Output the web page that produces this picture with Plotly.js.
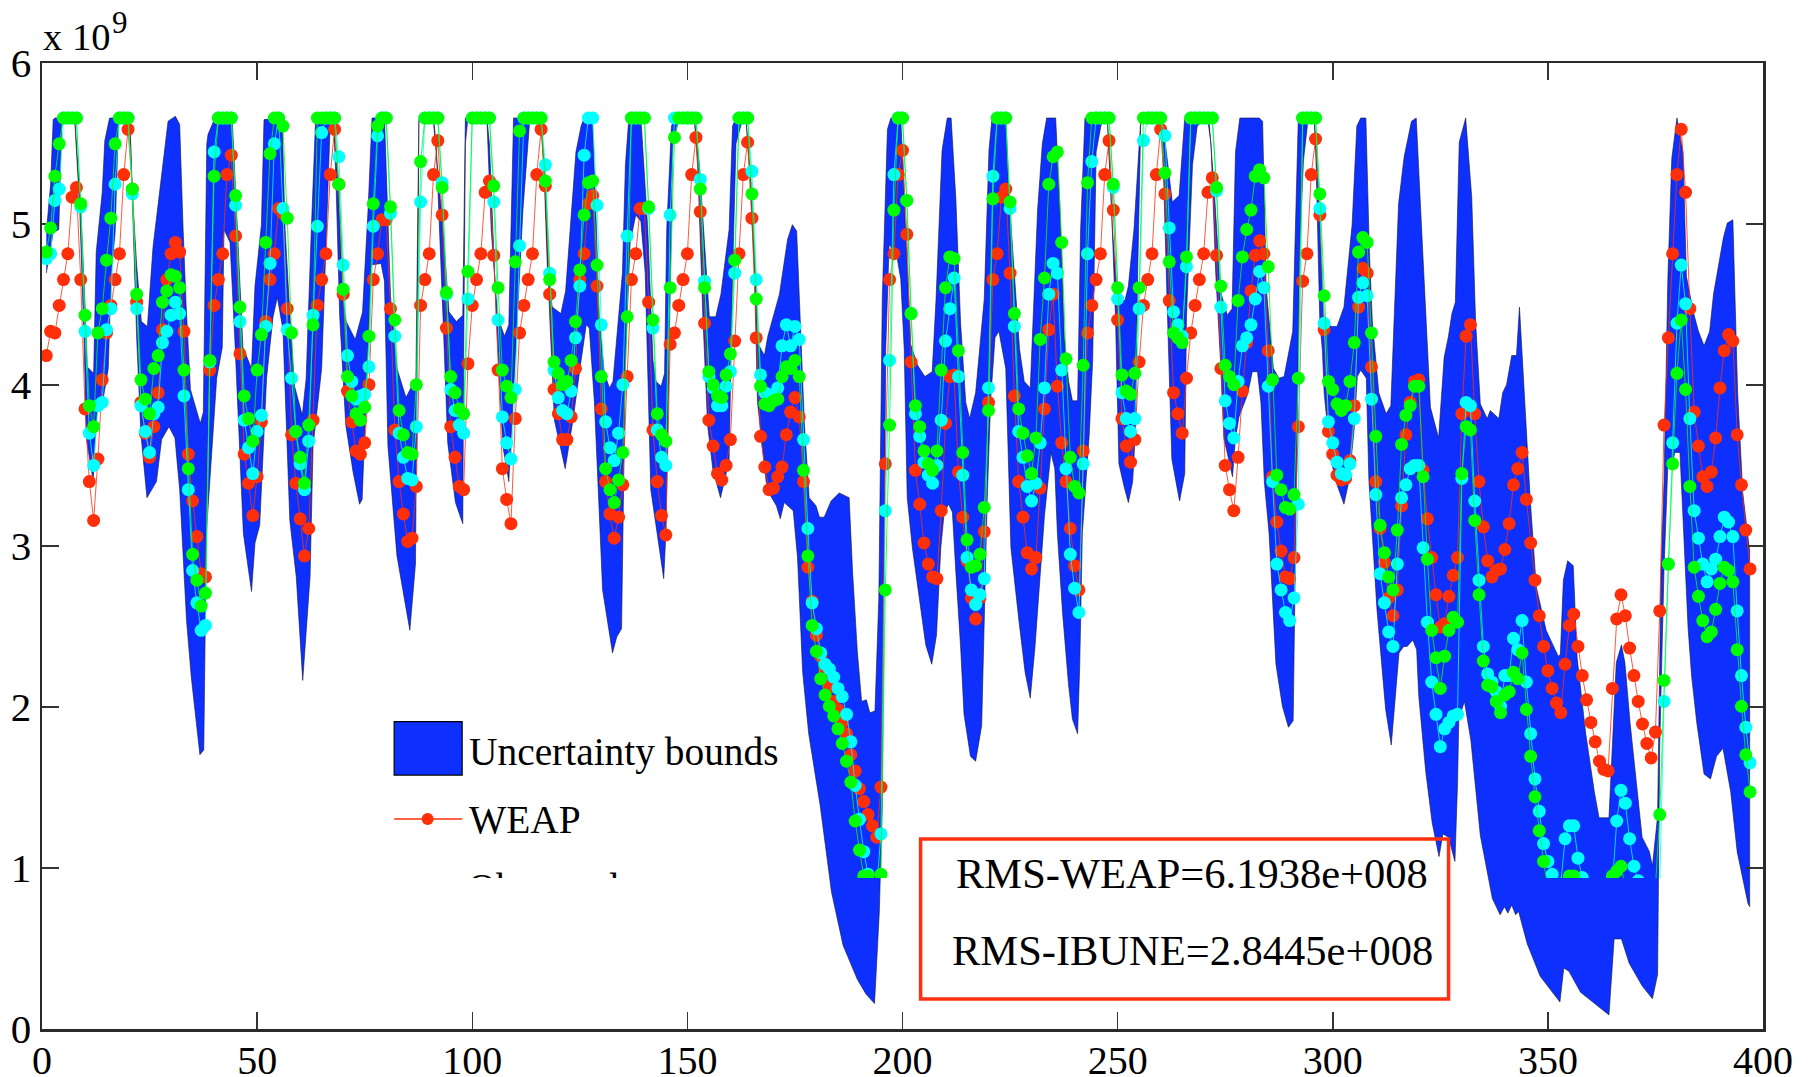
<!DOCTYPE html>
<html>
<head>
<meta charset="utf-8">
<script src="https://cdn.plot.ly/plotly-3.0.1.min.js"></script>
<style>html,body{margin:0;padding:0;background:#fff}#chart{width:1810px;height:1077px}</style>
</head>
<body>
<div id="chart"></div>
<script>
// Series values, in units of 10^9, index 1..397
const weap = [4.19,4.34,4.33,4.50,4.66,4.82,5.17,5.23,4.66,3.86,3.41,3.17,3.55,4.04,4.33,4.50,4.66,4.82,5.31,5.59,
5.22,4.52,3.90,3.71,3.56,3.75,3.96,4.35,4.66,4.82,4.89,4.83,4.34,3.58,3.29,3.07,2.84,2.82,4.10,4.50,
4.66,4.82,5.31,5.43,4.93,4.20,3.58,3.40,3.20,3.44,3.78,4.40,4.66,4.82,5.10,5.07,4.48,3.70,3.40,3.18,
2.95,3.12,3.79,4.50,4.66,4.82,5.31,5.59,5.25,4.57,3.97,3.78,3.60,3.58,3.65,4.01,4.66,4.82,5.03,5.03,
4.48,3.73,3.41,3.21,3.04,3.06,3.38,4.50,4.66,4.82,5.31,5.52,5.06,4.36,3.75,3.56,3.38,3.36,4.14,4.50,
4.66,4.82,5.20,5.27,4.81,4.10,3.49,3.30,3.15,3.80,4.33,4.50,4.66,4.82,5.31,5.59,5.24,4.57,3.98,3.83,
3.67,3.67,3.81,4.11,4.66,4.82,5.13,5.18,4.62,3.86,3.41,3.21,3.06,3.19,3.39,4.06,4.66,4.82,5.10,5.10,
4.52,3.73,3.41,3.20,3.08,4.26,4.33,4.50,4.66,4.82,5.31,5.54,5.08,4.39,3.79,3.63,3.46,3.42,3.51,3.67,
4.28,4.82,5.31,5.51,5.04,4.30,3.69,3.50,3.36,3.37,3.44,3.50,3.70,3.84,3.93,3.81,3.41,2.88,2.67,2.46,
2.33,2.24,2.14,2.05,2.00,1.92,1.85,1.72,1.62,1.51,1.43,1.35,1.28,1.21,1.52,3.52,4.66,4.82,5.31,5.46,
4.94,4.15,3.48,3.27,3.03,2.90,2.82,2.81,3.23,3.77,4.06,4.07,3.47,3.19,2.92,2.69,2.56,2.69,3.10,3.90,
4.66,4.82,5.17,5.22,4.70,3.94,3.41,3.19,2.97,2.87,2.94,3.37,3.86,4.35,4.57,4.00,3.65,3.41,3.12,2.89,
2.74,3.60,4.33,4.50,4.66,4.82,5.31,5.52,5.09,4.41,3.80,3.63,3.53,3.67,4.15,4.50,4.66,4.82,5.31,5.59,
5.19,4.53,3.96,3.83,3.71,4.05,4.33,4.50,4.66,4.82,5.20,5.29,4.81,4.11,3.51,3.36,3.23,3.56,3.97,4.27,
4.59,4.81,4.90,4.82,4.22,3.44,3.16,2.98,2.82,2.81,2.94,3.75,4.65,4.82,5.31,5.53,5.06,4.35,3.72,3.58,
3.45,3.42,3.43,3.54,3.88,4.49,4.73,4.70,4.12,3.41,3.12,2.91,2.69,2.58,2.74,3.26,3.70,3.90,4.03,4.04,
3.48,3.18,2.94,2.71,2.51,2.53,2.70,2.83,2.94,3.83,4.31,4.38,3.83,3.41,3.13,2.92,2.82,2.86,2.87,2.99,
3.15,3.39,3.49,3.59,3.30,3.03,2.80,2.58,2.39,2.24,2.13,2.04,1.98,2.28,2.52,2.59,2.39,2.21,2.06,1.92,
1.80,1.68,1.63,1.62,2.13,2.56,2.71,2.58,2.38,2.21,2.05,1.91,1.79,1.70,1.86,2.61,3.76,4.30,4.82,5.31,
5.59,5.20,4.48,3.84,3.63,3.44,3.38,3.47,3.68,3.99,4.22,4.32,4.28,3.70,3.39,3.11,2.87];

const ibune = [4.79,4.82,5.15,5.22,5.66,5.66,5.66,5.66,5.11,4.34,3.71,3.51,3.88,3.90,4.35,4.48,5.25,5.66,5.66,5.66,
5.19,4.48,3.88,3.72,3.59,3.83,3.87,4.27,4.34,4.44,4.52,4.45,3.94,3.36,2.86,2.66,2.49,2.52,4.15,5.45,
5.66,5.66,5.66,5.66,5.12,4.40,3.79,3.62,3.46,3.72,3.82,4.37,4.76,5.50,5.66,5.10,4.35,4.05,3.72,3.52,
3.36,3.66,4.44,4.99,5.57,5.66,5.66,5.66,5.42,4.75,4.19,4.03,3.92,3.94,3.95,4.12,4.99,5.55,5.66,5.66,
5.07,4.31,3.71,3.56,3.43,3.42,3.75,5.14,5.66,5.66,5.66,5.66,5.26,4.57,3.98,3.85,3.76,3.71,4.54,5.66,
5.66,5.66,5.66,5.66,5.14,4.41,3.81,3.65,3.55,3.98,4.87,5.66,5.66,5.66,5.66,5.66,5.37,4.70,4.10,3.93,
3.85,3.83,3.97,4.30,4.62,5.43,5.66,5.66,5.12,4.38,3.78,3.62,3.54,3.71,4.01,4.93,5.66,5.66,5.66,5.66,
5.10,4.36,3.73,3.56,3.51,5.06,5.66,5.66,5.66,5.66,5.66,5.66,5.28,4.65,4.06,3.99,3.88,3.88,4.00,4.09,
4.70,5.66,5.66,5.66,5.33,4.66,4.07,3.96,3.92,3.95,3.99,4.25,4.38,4.25,4.37,4.29,3.67,3.12,2.66,2.50,
2.35,2.28,2.25,2.20,2.13,2.08,1.97,1.80,1.53,1.32,1.12,0.98,0.90,0.90,1.23,3.23,4.16,5.31,5.66,5.66,
5.15,4.45,3.83,3.69,3.53,3.45,3.40,3.51,3.79,4.28,4.48,4.67,4.06,3.45,2.94,2.74,2.65,2.71,2.81,3.99,
5.30,5.66,5.66,5.66,5.10,4.37,3.72,3.56,3.38,3.29,3.40,3.65,3.99,4.57,4.76,4.70,4.10,3.49,2.96,2.75,
2.60,3.52,4.82,5.39,5.66,5.66,5.66,5.66,5.23,4.54,3.96,3.80,3.72,3.80,4.48,5.52,5.66,5.66,5.66,5.66,
5.55,4.98,4.46,4.38,4.31,4.74,5.66,5.66,5.66,5.66,5.66,5.66,5.21,4.49,3.91,3.77,3.68,4.03,4.25,4.30,
4.38,4.54,4.71,4.61,4.00,3.41,2.90,2.74,2.60,2.55,2.69,3.27,5.66,5.66,5.66,5.66,5.10,4.39,3.78,3.65,
3.53,3.46,3.45,3.52,3.80,4.55,4.64,4.56,3.92,3.33,2.84,2.66,2.48,2.39,2.90,3.31,3.39,3.49,3.51,3.51,
3.00,2.54,2.17,1.97,1.77,1.88,1.92,1.96,1.97,3.43,3.90,3.88,3.29,2.80,2.39,2.22,2.17,2.11,2.02,2.21,
2.21,2.44,2.37,2.55,2.17,1.85,1.57,1.37,1.17,1.06,0.98,0.92,0.92,1.20,1.28,1.28,1.08,0.96,0.85,0.80,
0.80,0.82,0.85,0.88,0.92,1.31,1.50,1.42,1.20,1.03,0.94,0.88,0.85,0.85,0.88,0.92,2.05,2.90,3.65,4.39,
4.75,4.51,3.80,3.23,3.06,2.90,2.79,2.87,2.93,3.07,3.19,3.16,3.07,2.61,2.21,1.89,1.67];

const observed = [4.83,4.98,5.30,5.50,5.66,5.66,5.66,5.66,5.13,4.44,3.88,3.75,4.33,4.48,4.78,5.04,5.50,5.66,5.66,5.66,
5.22,4.57,4.04,3.92,3.83,4.11,4.19,4.52,4.59,4.69,4.68,4.61,4.10,3.49,2.96,2.80,2.64,2.72,4.16,5.30,
5.66,5.66,5.66,5.66,5.18,4.49,3.94,3.80,3.66,4.10,4.32,4.89,5.44,5.66,5.66,5.61,5.04,4.33,3.72,3.56,
3.40,3.76,4.38,5.66,5.66,5.66,5.66,5.66,5.25,4.60,4.06,3.94,3.83,3.79,3.87,4.31,5.13,5.61,5.66,5.66,
5.11,4.41,3.85,3.70,3.59,3.58,4.01,5.39,5.66,5.66,5.66,5.66,5.23,4.58,4.06,3.96,3.86,3.83,4.71,5.66,
5.66,5.66,5.66,5.66,5.24,4.61,4.10,4.00,3.93,4.77,5.58,5.66,5.66,5.66,5.66,5.66,5.27,4.66,4.15,4.08,
4.01,4.03,4.16,4.40,4.72,5.06,5.26,5.27,4.75,4.06,3.49,3.36,3.28,3.42,3.59,4.43,5.66,5.66,5.66,5.66,
5.11,4.41,3.83,3.70,3.66,4.61,5.54,5.66,5.66,5.66,5.66,5.66,5.22,4.61,4.09,4.01,3.94,3.93,4.07,4.20,
4.78,5.66,5.66,5.66,5.19,4.54,4.00,3.89,3.88,3.91,3.92,4.06,4.12,4.11,4.16,4.06,3.48,2.95,2.52,2.36,
2.19,2.09,2.02,1.96,1.88,1.79,1.68,1.55,1.31,1.13,0.97,0.97,0.90,0.90,0.98,2.74,3.76,5.09,5.66,5.66,
5.15,4.45,3.88,3.75,3.60,3.52,3.48,3.60,4.10,4.61,4.80,4.79,4.22,3.59,3.05,2.88,2.89,2.96,3.25,3.85,
5.16,5.66,5.66,5.66,5.14,4.45,3.86,3.71,3.57,3.46,3.68,4.29,4.67,5.25,5.42,5.45,4.89,4.17,3.56,3.38,
3.34,4.13,5.26,5.66,5.66,5.66,5.66,5.66,5.25,4.61,4.07,3.97,3.95,4.08,4.61,5.66,5.66,5.66,5.66,5.66,
5.32,4.77,4.33,4.30,4.27,4.80,5.66,5.66,5.66,5.66,5.66,5.66,5.23,4.62,4.13,4.06,4.01,4.53,4.80,4.97,
5.09,5.30,5.34,5.29,4.74,4.04,3.45,3.36,3.25,3.24,3.33,4.05,5.66,5.66,5.66,5.66,5.19,4.56,4.03,3.98,
3.89,3.85,3.88,4.03,4.27,4.83,4.92,4.89,4.33,3.69,3.14,2.97,2.82,2.74,3.11,3.64,3.82,3.88,4.00,4.00,
3.44,2.93,2.49,2.32,2.13,2.33,2.49,2.57,2.54,3.46,3.75,3.73,3.17,2.71,2.30,2.15,2.14,2.05,1.98,2.09,
2.11,2.23,2.19,2.35,2.00,1.71,1.46,1.25,1.06,0.90,0.85,0.80,0.85,0.90,0.97,0.97,0.85,0.80,0.78,0.75,
0.75,0.78,0.82,0.88,0.97,1.00,1.03,0.90,0.85,0.82,0.80,0.80,0.82,0.85,0.90,1.35,2.18,2.90,3.52,4.08,
4.41,3.98,3.38,2.88,2.70,2.55,2.45,2.48,2.62,2.78,2.88,2.86,2.79,2.37,2.02,1.72,1.49];

// Uncertainty band: vertices of the upper bound
const upperIdx = [1,2,2.6,3,7.6,9,10,10.5,12,12.6,14,14.6,15.7,20.4,21,22,23.1,24.5,25.8,28,29.3,31,32,32.8,33.5,34.5,36.8,37.5,38.3,38.6,40.2,44.2,45,46.7,48.7,49.5,51,51.6,55.8,56.5,57.6,58.7,60.5,61.4,62.6,63.6,67.6,68.8,69.9,70.7,72.8,74.5,75.8,76.7,79.6,81,82.5,84.6,86.9,87.6,90.9,93.2,94.6,96.3,97.8,98.4,103.4,104.4,105.9,107.5,108.5,109.6,116,116.8,117.5,118.6,120.6,121.7,124.1,125.3,126,127.9,128.8,129.5,130.7,131.9,132.7,134.9,135.6,136.4,139.2,140.8,142,142.7,143.9,144.7,145.2,146.3,147.2,151.6,152.8,153.9,155.1,156.6,157.8,159.7,160.5,161.3,163.6,164.8,166,166.3,167.9,168.7,171.4,173.3,174.4,175.4,176,177.2,178.3,179.9,180.7,181.8,183.4,185.3,187.6,188.4,189.5,190.5,191.6,192.4,193.6,194.5,195.3,196.5,197.3,199.6,200.4,201.9,203.5,205.2,206.9,207.8,209.2,210.4,211.3,212.4,213.5,214.7,215.6,217,219,220.1,220.8,224,224.8,227.2,228.3,229.7,231.4,232.5,233.5,235.6,236.6,237.6,238.6,239.5,240.7,241.4,242.4,247.6,248.8,249.9,251.7,252.5,253.8,255.4,260.4,261.6,262.7,264.3,265.6,271.2,272.4,273.9,275.5,276.6,277.4,278.4,282.9,283.7,284.5,286.2,287.5,288.7,289.3,290.7,291.4,292,295.7,296.6,298,299.7,301,302.6,304.5,305.6,306.5,307.7,308.5,309.2,310.7,312.4,313.5,314.2,315.3,316.6,318.3,319.4,320,320.9,322.7,324.6,325.9,326.9,327.7,328.5,329.4,330.9,332.3,333.2,334.3,335.9,336.6,338.6,339.5,340.4,341.6,342.7,343.4,344.5,345.9,347.3,349.6,352.4,352.9,353.6,354.6,355.9,356.8,358.8,360.8,361.9,364.2,365,365.9,367.1,367.9,369.1,371.9,373.6,374.3,375.5,376.3,377,377.9,378.8,380,381.4,382.2,383.8,385,386.3,387.6,388.5,390.8,391.7,393,394.1,395.3,396.9];
const upperVal = [4.95,5.25,5.65,5.66,5.66,5.1,4.5,4.12,4.08,4.83,5.2,5.52,5.66,5.66,5.2,4.75,4.40,4.37,4.86,5.37,5.64,5.67,5.62,4.97,4.5,3.98,3.77,3.84,5.50,5.56,5.66,5.66,5.2,4.24,4.11,4.62,5.0,5.65,5.66,4.97,4.45,4.0,3.82,4.05,4.97,5.66,5.66,5.26,4.54,4.40,4.29,4.46,5.1,5.66,5.66,4.56,4.11,3.93,4.05,5.66,5.66,4.97,4.46,4.40,4.44,5.66,5.66,4.97,4.43,4.31,4.38,5.66,5.66,5.24,4.7,4.49,4.45,4.59,5.45,5.61,5.66,5.66,5.02,4.43,4.08,3.99,4.03,4.7,5.37,5.66,5.66,4.97,4.16,4.03,4.0,4.08,4.97,5.61,5.66,5.66,5.37,4.9,4.43,4.43,4.57,4.97,5.61,5.66,5.66,5.24,4.57,4.27,4.19,4.31,4.57,4.91,5.0,4.96,4.54,3.77,3.31,3.26,3.19,3.19,3.29,3.34,3.31,2.85,2.36,2.05,2.06,1.98,1.99,2.69,4.54,5.59,5.66,5.66,5.16,4.26,4.13,4.06,4.09,4.54,5.46,5.66,5.66,5.16,4.39,3.9,3.80,3.96,4.54,5.46,5.66,5.66,5.16,4.23,4.03,3.99,5.09,5.5,5.66,5.66,5.10,4.30,4.03,3.91,3.91,4.97,5.66,5.66,4.97,4.56,4.53,4.62,4.97,5.66,5.66,5.37,5.14,5.18,5.66,5.66,5.24,4.59,4.44,4.48,5.45,5.66,5.66,5.64,4.62,4.11,4.05,4.06,4.14,4.34,5.06,5.66,5.66,5.29,4.40,4.37,4.37,4.49,5.0,5.61,5.66,5.66,4.84,4.40,3.96,3.83,3.88,4.40,5.13,5.42,5.64,5.66,5.29,4.84,3.87,3.68,4.18,4.31,4.45,4.52,5.51,5.66,5.17,4.40,3.89,3.80,3.85,3.80,3.96,4.01,4.19,4.19,4.49,3.96,3.30,2.76,2.49,2.33,2.34,2.8,2.92,2.89,2.32,1.85,1.49,1.33,1.33,1.78,2.29,2.40,2.29,1.92,1.21,1.12,1.03,1.34,2.87,3.41,4.68,5.41,5.66,5.45,4.68,4.46,4.34,4.25,4.34,4.57,4.92,5.01,5.03,3.96,3.34,2.98];

// Uncertainty band: vertices of the lower bound
const lowerIdx = [1,2,2.6,3.9,4.6,7.6,8.8,9.8,10.3,11.9,12.3,13,14.2,15.4,16.1,17,17.8,20.4,21.3,22,23,24.4,26.6,27.8,29.5,30.9,32,33.6,34.7,36.7,37.6,38.2,40.6,41.9,42.3,43.7,44.8,46,46.8,48.7,49.5,50.6,52.2,53.7,54.7,56,57.6,59.1,60.6,62.3,63,65,66,67,67.8,68.4,69.2,70.6,72.3,73.8,74.4,75.3,76.5,78.8,79.6,80.4,82.5,85.5,86.8,87.3,87.6,91,91.6,93.2,94.3,96.1,97.8,98,98.4,99,103.4,104,105.6,107.1,108.5,110.2,111.8,113.4,116,117,118,119.1,121.6,123.4,125.3,126.5,127.2,128.4,129.5,130.3,132.6,133.6,134.7,135.6,136.7,138,139.2,140.2,141.5,143.3,144.5,145,145.8,146.6,148.1,151.6,152.4,153.6,154.7,155.9,157.7,159.7,160.5,161.3,162.9,163.6,164.4,165.6,166.3,168.3,169.4,170.7,171.6,172.5,173.7,174.6,175.6,176.8,178.2,180.9,183.5,186.2,189.5,191.5,193.5,194.6,195.3,196.1,196.9,198.8,199.6,200.4,201.1,202.3,205.4,206.8,207.9,208.9,209.7,210.7,211.6,212.4,213.5,214.3,215.8,217,218.4,218.9,219.7,220.5,221.5,222.4,223.2,224,225.2,227.1,228.5,229.7,230.8,232,233,234.5,235.4,236,237.2,238.6,239.5,240.7,241.2,241.8,243.4,244.2,245,246.1,246.9,247.6,248.4,249.5,250.3,251.5,252.5,253.5,254.2,254.6,255.4,260.3,260.8,261.6,262.6,263.9,264.4,265.6,266,267.4,268.5,270.9,271.7,272.8,273.9,274.7,276.7,277.4,278.2,280.2,281.3,282.5,283.3,284.1,285.2,286.8,288.3,289.7,290.8,291.4,292,292.3,293.2,294.3,295.7,296.1,297,297.6,298,299.5,301,302.6,303.8,305,305.7,306.5,307.8,308.4,310.3,312.3,313.6,314.6,315.4,316.5,317.3,318.6,319.5,320,321.6,323.1,324.7,325.6,326.9,328.4,329,329.3,330.6,332.1,334.3,337.1,338.9,339.9,340.7,341.6,342.5,343.2,345.2,348.2,352.8,353.7,354.9,357.6,360.8,364.2,365.4,367.1,368.9,371.9,374.3,375.5,376,377,377.9,378.9,379.5,380.7,382.6,383.4,384.6,386.3,387.8,389.2,390.7,392.5,394,396.5,396.9];
const lowerVal = [4.70,4.85,4.95,4.97,5.66,5.66,5.07,4.27,3.68,3.41,3.65,3.92,3.92,4.11,4.7,4.95,5.66,5.66,4.9,4.3,3.7,3.31,3.41,3.67,3.75,3.68,3.36,2.55,2.20,1.72,1.75,3.09,4.05,4.24,4.97,4.89,4.3,3.6,3.09,2.73,3.03,3.14,4.05,4.43,4.55,4.35,3.17,2.82,2.18,2.82,3.63,4.11,4.83,5.64,5.66,5.2,4.43,3.76,3.47,3.27,3.30,3.9,4.75,4.76,4.65,3.63,2.95,2.49,2.90,4.43,5.64,5.66,5.5,4.43,3.65,3.28,3.15,4.16,5.5,5.66,5.66,5.5,4.43,3.63,3.41,4.3,5.1,5.66,5.66,5.24,4.43,3.79,3.49,3.79,4.16,4.38,4.36,3.9,3.22,2.74,2.35,2.45,2.5,4.16,4.89,5.06,5.02,4.70,3.36,3.03,2.81,3.09,4.27,5.5,5.66,5.66,5.37,4.43,3.76,3.49,3.31,3.54,4.7,5.5,5.66,5.66,5.37,4.7,3.9,3.41,3.32,3.26,3.18,3.28,3.25,3.23,2.94,2.23,1.85,1.40,0.87,0.54,0.33,0.24,0.18,0.74,1.40,4.23,4.88,4.79,4.66,4.23,3.31,3.0,2.40,2.28,2.46,3.0,3.22,3.27,3.22,2.85,2.39,1.97,1.71,1.68,1.90,2.39,3.31,3.92,4.30,4.34,4.23,4.11,3.0,2.54,2.23,2.07,2.39,2.82,3.2,3.59,3.49,3.09,2.6,2.15,1.94,1.85,2.28,3.09,3.7,4.16,5.45,5.61,5.66,5.66,5.24,4.43,3.52,3.38,3.28,3.41,3.76,4.62,5.66,5.66,5.24,4.43,3.55,3.36,3.29,3.46,4.43,5.37,5.61,5.66,5.5,4.7,4.16,3.68,3.44,3.68,3.81,3.95,4.09,4.09,3.9,3.41,3.09,2.28,2.02,1.89,1.93,2.88,4.22,4.85,5.4,5.66,5.66,5.4,4.4,4.22,3.96,3.55,3.39,3.27,3.42,3.74,4.06,4.10,4.05,3.42,2.61,2.0,1.78,2.08,2.35,2.39,2.39,2.43,2.37,2.08,1.62,1.30,1.09,1.23,1.21,1.06,1.54,1.94,2.05,1.81,1.22,0.83,0.73,0.78,0.74,0.79,0.73,0.75,0.55,0.35,0.19,0.40,0.38,0.25,0.18,0.11,0.58,0.58,0.43,0.29,0.21,0.36,1.78,2.87,3.52,3.52,3.59,3.59,2.5,2.21,1.92,1.60,1.57,1.71,1.76,1.49,1.12,0.80,0.78];

const xTicks = [0,50,100,150,200,250,300,350,400];
const yTicks = [0,1,2,3,4,5,6];
const rmsLabels = ["RMS-WEAP=6.1938e+008","RMS-IBUNE=2.8445e+008"];
const legendLabels = ["Uncertainty bounds","WEAP","Observed"];

const W = 1810, H = 1077, L = 42.3, R = 1763.5, T = 62.9, B = 1029, CLIP = 878;
const px = v => (v - L) / (R - L);
const py = v => (B - v) / (B - T);
const serif = "Liberation Serif, Times New Roman, serif";
const BLUE = "#0d30ff", RED = "#ff2f0a";
const index = weap.map((_, i) => i + 1);
const clipValue = 6 * py(CLIP);
// my readings were taken with a slightly low zero line; this corrects them to the axis
const onAxis = a => a.map(v => 1.00379 * v - 0.02298);

const series = (name, y, color) => ({
  type: "scatter", mode: "lines+markers", name, x: index, y: onAxis(y), xaxis: "x2", yaxis: "y2",
  cliponaxis: true, showlegend: false, hoverinfo: "skip",
  line: {color, width: 0.8}, marker: {color, size: 13}
});

const traces = [
  {type: "scatter", mode: "lines", name: "Uncertainty bounds",
   x: upperIdx.concat(lowerIdx.slice().reverse()),
   y: onAxis(upperVal.concat(lowerVal.slice().reverse())),
   fill: "toself", fillcolor: BLUE, line: {color: "#10143c", width: 0.6},
   showlegend: false, hoverinfo: "skip"},
  series("WEAP", weap, RED),
  series("IBUNE", ibune, "#00ffff"),
  series("Observed", observed, "#00ff00"),
  {type: "scatter", mode: "text", x: [(468 - L) / (R - L) * 400], y: [6 * py(891)], text: [legendLabels[2]],
   textposition: "middle right", textfont: {family: serif, size: 39.4, color: "#000"},
   xaxis: "x2", yaxis: "y2", cliponaxis: true, showlegend: false, hoverinfo: "skip"}
];

const note = (text, xp, yp, size, xanchor) => ({
  text, xref: "paper", yref: "paper", x: px(xp), y: py(yp), xanchor: xanchor || "left", yanchor: "middle",
  showarrow: false, font: {family: serif, size, color: "#000"}, borderpad: 0
});

const layout = {
  width: W, height: H, paper_bgcolor: "#fff", plot_bgcolor: "rgba(0,0,0,0)", showlegend: false,
  margin: {l: L, r: W - R, t: T, b: H - B, pad: 0},
  font: {family: serif, color: "#000"},
  xaxis: {range: [0, 400], tickvals: xTicks, ticktext: xTicks.map(String), ticks: "inside", ticklen: 17, tickwidth: 1.5,
    tickcolor: "#333", showline: true, linecolor: "#2a2a2a", linewidth: 2.5, mirror: "allticks", showgrid: false, zeroline: false,
    tickfont: {family: serif, size: 40, color: "#000"}, domain: [0, 1], ticklabelstandoff: -6},
  yaxis: {range: [0, 6], tickvals: yTicks, ticktext: yTicks.map(String), ticks: "inside", ticklen: 17, tickwidth: 1.5,
    tickcolor: "#333", showline: true, linecolor: "#2a2a2a", linewidth: 2.5, mirror: "allticks", showgrid: false, zeroline: false,
    tickfont: {family: serif, size: 41, color: "#000"}, domain: [0, 1]},
  xaxis2: {range: [0, 400], domain: [0, 1], anchor: "y2", visible: false},
  yaxis2: {range: [clipValue, 6], domain: [py(CLIP), 1], anchor: "x2", visible: false},
  shapes: [
    {type: "rect", xref: "paper", yref: "paper", x0: px(394.5), x1: px(462.5), y0: py(721.5), y1: py(775),
     fillcolor: BLUE, line: {color: "#000", width: 1.2}},
    {type: "line", xref: "paper", yref: "paper", x0: px(394.5), x1: px(462.5), y0: py(819), y1: py(819),
     line: {color: RED, width: 1.5}},
    {type: "circle", xref: "paper", yref: "paper", x0: px(422), x1: px(434), y0: py(813), y1: py(825),
     fillcolor: RED, line: {color: RED, width: 0}},
    {type: "rect", xref: "paper", yref: "paper", x0: px(921), x1: px(1449), y0: py(839), y1: py(999),
     fillcolor: "rgba(0,0,0,0)", line: {color: "#ff3010", width: 3.5}}
  ],
  annotations: [
    note("x 10", 42, 37, 38.5),
    note("9", 111, 22, 31),
    note(legendLabels[0], 468, 752, 39.4),
    note(legendLabels[1], 468, 820, 39.4),
    note(rmsLabels[0], 1192, 873, 42.5, "center"),
    note(rmsLabels[1], 1192.5, 950, 42.5, "center")
  ]
};

Plotly.newPlot("chart", traces, layout, {staticPlot: true, displayModeBar: false});
</script>
</body>
</html>
